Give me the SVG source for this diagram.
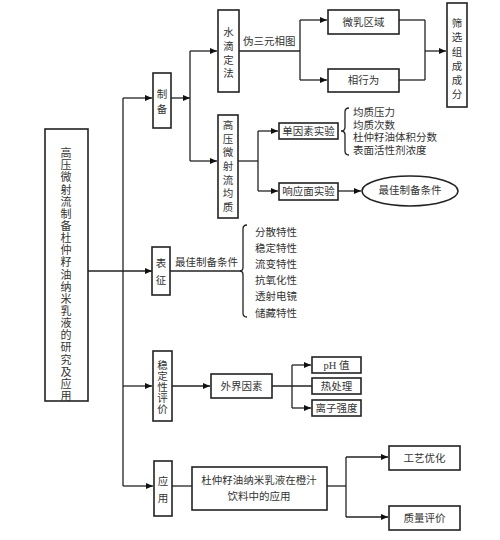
<svg xmlns="http://www.w3.org/2000/svg" width="500" height="540" viewBox="0 0 500 540">
<style>
.box{fill:#fff;stroke:#222;stroke-width:1.6}
.ln{fill:none;stroke:#222;stroke-width:1.3}
.arr{fill:none;stroke:#222;stroke-width:1.3;marker-end:url(#ah)}
text{font-family:"Liberation Serif","Noto Sans CJK SC",serif;font-size:10.5px;fill:#333;dominant-baseline:central}
.c{text-anchor:middle}
.big{font-size:11px}
</style>
<defs>
<marker id="ah" markerUnits="userSpaceOnUse" markerWidth="8" markerHeight="7" refX="7" refY="3" orient="auto">
<path d="M0,0 L7,3 L0,6 z" fill="#111"/>
</marker>
</defs>
<rect width="500" height="540" fill="#fff"/>
<g id="connectors">
<line class="arr" x1="88" y1="271" x2="152" y2="271"/>
<line class="ln" x1="123" y1="98" x2="123" y2="486"/>
<line class="arr" x1="123" y1="98" x2="152" y2="98"/>
<line class="arr" x1="123" y1="386" x2="152" y2="386"/>
<line class="arr" x1="123" y1="486" x2="153" y2="486"/>
<line class="arr" x1="171" y1="98" x2="190" y2="98"/>
<line class="ln" x1="190" y1="51" x2="190" y2="161"/>
<line class="arr" x1="190" y1="51" x2="217" y2="51"/>
<line class="arr" x1="190" y1="161" x2="217" y2="161"/>
<line class="ln" x1="239" y1="51" x2="300" y2="51"/>
<line class="ln" x1="300" y1="20" x2="300" y2="80"/>
<line class="arr" x1="300" y1="20" x2="327" y2="20"/>
<line class="arr" x1="300" y1="80" x2="327" y2="80"/>
<line class="ln" x1="399" y1="20" x2="425" y2="20"/>
<line class="ln" x1="399" y1="80" x2="425" y2="80"/>
<line class="ln" x1="425" y1="20" x2="425" y2="80"/>
<line class="arr" x1="425" y1="51" x2="446" y2="51"/>
<line class="ln" x1="238" y1="161" x2="258" y2="161"/>
<line class="ln" x1="258" y1="131" x2="258" y2="191"/>
<line class="arr" x1="258" y1="131" x2="278" y2="131"/>
<line class="arr" x1="258" y1="191" x2="278" y2="191"/>
<line class="arr" x1="338" y1="191" x2="361" y2="191"/>
<path class="ln" d="M349,108 Q345,108 345,112 L345,127 Q345,131 341,131 Q345,131 345,135 L345,151 Q345,155 349,155"/>
<line class="ln" x1="170" y1="271" x2="242" y2="271"/>
<path class="ln" d="M247,225 Q243,225 243,229 L243,267 Q243,271 240,271 Q243,271 243,275 L243,313 Q243,317 247,317"/>
<line class="arr" x1="172" y1="386" x2="210" y2="386"/>
<line class="ln" x1="272" y1="386" x2="312" y2="386"/>
<line class="ln" x1="292" y1="365" x2="292" y2="408"/>
<line class="arr" x1="292" y1="365" x2="311" y2="365"/>
<line class="arr" x1="292" y1="408" x2="311" y2="408"/>
<line class="ln" x1="172" y1="486" x2="192" y2="486"/>
<line class="ln" x1="327" y1="486" x2="346" y2="486"/>
<line class="ln" x1="346" y1="457" x2="346" y2="517"/>
<line class="arr" x1="346" y1="457" x2="388" y2="457"/>
<line class="arr" x1="346" y1="517" x2="388" y2="517"/>
</g>
<g id="main">
<rect class="box" x="45" y="129" width="43" height="272"/>
<text class="c big"><tspan x="66" y="153">高</tspan><tspan x="66" y="165.2">压</tspan><tspan x="66" y="177.3">微</tspan><tspan x="66" y="189.5">射</tspan><tspan x="66" y="201.6">流</tspan><tspan x="66" y="213.8">制</tspan><tspan x="66" y="225.9">备</tspan><tspan x="66" y="238.1">杜</tspan><tspan x="66" y="250.2">仲</tspan><tspan x="66" y="262.4">籽</tspan><tspan x="66" y="274.5">油</tspan><tspan x="66" y="286.7">纳</tspan><tspan x="66" y="298.8">米</tspan><tspan x="66" y="311">乳</tspan><tspan x="66" y="323.1">液</tspan><tspan x="66" y="335.3">的</tspan><tspan x="66" y="347.4">研</tspan><tspan x="66" y="359.6">究</tspan><tspan x="66" y="371.7">及</tspan><tspan x="66" y="383.9">应</tspan><tspan x="66" y="396">用</tspan></text>
</g>
<g id="zhibei">
<rect class="box" x="153" y="73" width="18" height="55"/>
<text class="c"><tspan x="162" y="94">制</tspan><tspan x="162" y="109">备</tspan></text>
</g>
<g id="shuidi">
<rect class="box" x="218" y="10" width="21" height="82"/>
<text class="c"><tspan x="228.5" y="32">水</tspan><tspan x="228.5" y="46">滴</tspan><tspan x="228.5" y="60">定</tspan><tspan x="228.5" y="73">法</tspan></text>
</g>
<text x="243" y="41">伪三元相图</text>
<g id="weiru">
<rect class="box" x="328" y="10" width="71" height="24"/>
<text class="c" x="363.5" y="22">微乳区域</text>
</g>
<g id="xiangxingwei">
<rect class="box" x="328" y="69" width="71" height="23"/>
<text class="c" x="363.5" y="80.5">相行为</text>
</g>
<g id="shaixuan">
<rect class="box" x="447" y="3" width="20" height="104"/>
<text class="c"><tspan x="457" y="23">筛</tspan><tspan x="457" y="37">选</tspan><tspan x="457" y="51.5">组</tspan><tspan x="457" y="65.5">成</tspan><tspan x="457" y="79.5">成</tspan><tspan x="457" y="94">分</tspan></text>
</g>
<g id="gaoya">
<rect class="box" x="218" y="115" width="20" height="103"/>
<text class="c"><tspan x="228" y="125">高</tspan><tspan x="228" y="138.7">压</tspan><tspan x="228" y="152.3">微</tspan><tspan x="228" y="166">射</tspan><tspan x="228" y="179.7">流</tspan><tspan x="228" y="193.3">均</tspan><tspan x="228" y="207">质</tspan></text>
</g>
<g id="danyinsu">
<rect class="box" x="279" y="123" width="59" height="16"/>
<text class="c" x="308.5" y="131">单因素实验</text>
</g>
<g id="danyinsu-list">
<text x="353" y="112">均质压力</text>
<text x="353" y="125">均质次数</text>
<text x="353" y="137.5">杜仲籽油体积分数</text>
<text x="353" y="150">表面活性剂浓度</text>
</g>
<g id="xiangying">
<rect class="box" x="279" y="183" width="59" height="17"/>
<text class="c" x="308.5" y="191.5">响应面实验</text>
</g>
<g id="zuijia">
<ellipse class="box" cx="410" cy="191" rx="48" ry="15"/>
<text class="c" x="410" y="190">最佳制备条件</text>
</g>
<g id="biaozheng">
<rect class="box" x="152" y="247" width="18" height="48"/>
<text class="c"><tspan x="161" y="263">表</tspan><tspan x="161" y="280">征</tspan></text>
</g>
<text x="175" y="262">最佳制备条件</text>
<g id="biaozheng-list">
<text x="255" y="232">分散特性</text>
<text x="255" y="248">稳定特性</text>
<text x="255" y="264">流变特性</text>
<text x="255" y="280.5">抗氧化性</text>
<text x="255" y="296.5">透射电镜</text>
<text x="255" y="313">储藏特性</text>
</g>
<g id="wending">
<rect class="box" x="153" y="351" width="19" height="70"/>
<text class="c"><tspan x="162.5" y="365">稳</tspan><tspan x="162.5" y="376">定</tspan><tspan x="162.5" y="387">性</tspan><tspan x="162.5" y="398">评</tspan><tspan x="162.5" y="409">价</tspan></text>
</g>
<g id="waijie">
<rect class="box" x="211" y="374" width="61" height="24"/>
<text class="c" x="241.5" y="386">外界因素</text>
</g>
<g id="ph">
<rect class="box" x="312" y="357" width="49" height="16"/>
<text class="c" x="336.5" y="365">pH 值</text>
</g>
<g id="rechuli">
<rect class="box" x="312" y="378" width="49" height="16"/>
<text class="c" x="336.5" y="386">热处理</text>
</g>
<g id="lizi">
<rect class="box" x="312" y="400" width="49" height="16"/>
<text class="c" x="336.5" y="408">离子强度</text>
</g>
<g id="yingyong">
<rect class="box" x="154" y="461" width="18" height="55"/>
<text class="c"><tspan x="163" y="481">应</tspan><tspan x="163" y="498">用</tspan></text>
</g>
<g id="chengzhi">
<rect class="box" x="192" y="467" width="135" height="43"/>
<text class="c" x="259" y="480">杜仲籽油纳米乳液在橙汁</text>
<text class="c" x="259" y="496">饮料中的应用</text>
</g>
<g id="gongyi">
<rect class="box" x="389" y="446" width="71" height="24"/>
<text class="c" x="424.5" y="458">工艺优化</text>
</g>
<g id="zhiliang">
<rect class="box" x="389" y="506" width="71" height="24"/>
<text class="c" x="424.5" y="518">质量评价</text>
</g>
</svg>
